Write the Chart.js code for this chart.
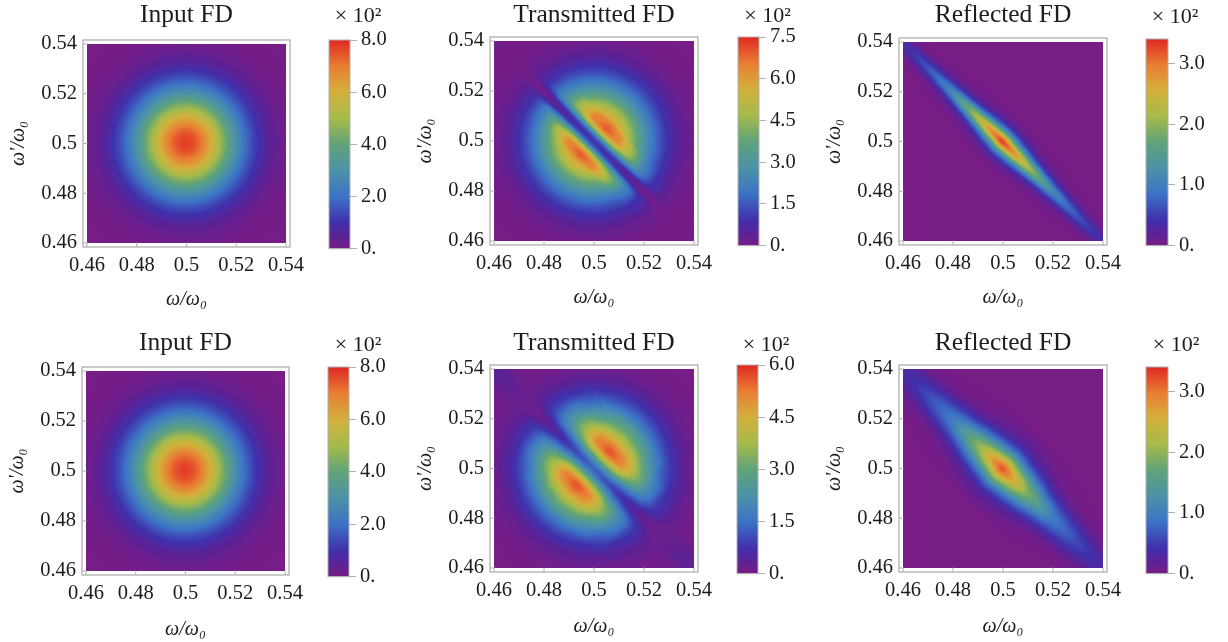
<!DOCTYPE html>
<html><head><meta charset="utf-8">
<style>html,body{margin:0;padding:0;background:#fff;width:1228px;height:642px;overflow:hidden}canvas{position:absolute;display:block}</style>
<script src="https://cdn.jsdelivr.net/npm/chart.js@4"></script>
</head><body>
<script>
// frequency axes
const nodes17=[.46,.465,.47,.475,.48,.485,.49,.495,.5,.505,.51,.515,.52,.525,.53,.535,.54];
const axisTicks=[.46,.48,.5,.52,.54];
const axisLabels=['0.46','0.48','0.5','0.52','0.54'];
// distance along the anti-diagonal for the ridge/notch rows, and their offsets across it
const along=[-.04,-.035,-.03,-.025,-.02,-.015,-.01,-.005,0,.005,.01,.015,.02,.025,.03,.035,.04];
const offsetsRN=[.007,.006,.005,.004,.003,.002,.001,0,-.001,-.002,-.003,-.004,-.005,-.006,-.007];
const offsetsTN=[.006,.005,.004,.003,.002,.001,0,-.001,-.002,-.003,-.004,-.005,-.006];
const offsetsRB=[.012,.01,.008,.006,.004,.002,0,-.002,-.004,-.006,-.008,-.01,-.012];
const offsetsTB=[.014,.012,.01,.008,.006,.004,.002,0,-.002,-.004,-.006,-.008,-.01,-.012,-.014];
// values in units of 10 (top row = omega' 0.54)
const inputFD=[
[.03,.08,.17,.34,.6,.9,1.2,1.5,1.6,1.5,1.2,.9,.6,.34,.17,.08,.03],
[.08,.2,.4,.85,1.5,2.3,3.1,3.7,4,3.7,3.1,2.3,1.5,.85,.4,.2,.08],
[.17,.4,1,1.9,3.3,5.1,6.9,8.3,8.8,8.3,6.9,5.1,3.3,1.9,1,.4,.17],
[.34,.85,1.9,3.7,6.5,10,13.5,16.3,17.3,16.3,13.5,10,6.5,3.7,1.9,.85,.34],
[.6,1.5,3.3,6.5,11.3,17.3,23.5,28.2,30,28.2,23.5,17.3,11.3,6.5,3.3,1.5,.6],
[.9,2.3,5.1,10,17.3,26.5,36,43.3,46,43.3,36,26.5,17.3,10,5.1,2.3,.9],
[1.2,3.1,6.9,13.5,23.5,36,49,59,62.6,59,49,36,23.5,13.5,6.9,3.1,1.2],
[1.5,3.7,8.3,16.3,28.2,43.3,59,70.8,75.2,70.8,59,43.3,28.2,16.3,8.3,3.7,1.5],
[1.6,4,8.8,17.3,30,46,62.6,75.2,80,75.2,62.6,46,30,17.3,8.8,4,1.6],
[1.5,3.7,8.3,16.3,28.2,43.3,59,70.8,75.2,70.8,59,43.3,28.2,16.3,8.3,3.7,1.5],
[1.2,3.1,6.9,13.5,23.5,36,49,59,62.6,59,49,36,23.5,13.5,6.9,3.1,1.2],
[.9,2.3,5.1,10,17.3,26.5,36,43.3,46,43.3,36,26.5,17.3,10,5.1,2.3,.9],
[.6,1.5,3.3,6.5,11.3,17.3,23.5,28.2,30,28.2,23.5,17.3,11.3,6.5,3.3,1.5,.6],
[.34,.85,1.9,3.7,6.5,10,13.5,16.3,17.3,16.3,13.5,10,6.5,3.7,1.9,.85,.34],
[.17,.4,1,1.9,3.3,5.1,6.9,8.3,8.8,8.3,6.9,5.1,3.3,1.9,1,.4,.17],
[.08,.2,.4,.85,1.5,2.3,3.1,3.7,4,3.7,3.1,2.3,1.5,.85,.4,.2,.08],
[.03,.08,.17,.34,.6,.9,1.2,1.5,1.6,1.5,1.2,.9,.6,.34,.17,.08,.03]];
const reflectedNarrow=[
[0,0,0,0,.1,.1,.3,.5,.7,.5,.3,.1,.1,0,0,0,0],
[0,0,0,.1,.2,.3,.6,1,1.5,1,.6,.3,.2,.1,0,0,0],
[0,0,.1,.2,.4,.7,1.2,2.2,3,2.2,1.2,.7,.4,.2,.1,0,0],
[.1,.2,.3,.6,1,1.5,2.6,4.5,6,4.5,2.6,1.5,1,.6,.3,.2,.1],
[.4,.7,1,1.5,2.4,3.4,5.4,8.5,11.5,8.5,5.4,3.4,2.4,1.5,1,.7,.4],
[1.2,1.8,2.6,3.6,5,7.2,10.8,15.5,19,15.5,10.8,7.2,5,3.6,2.6,1.8,1.2],
[2.8,4,5.2,7,9.2,13.5,18.5,24,29,24,18.5,13.5,9.2,7,5.2,4,2.8],
[3.5,5,6.5,9,12,17,23,29,34,29,23,17,12,9,6.5,5,3.5],
[2.8,4,5.2,7,9.2,13.5,18.5,24,29,24,18.5,13.5,9.2,7,5.2,4,2.8],
[1.2,1.8,2.6,3.6,5,7.2,10.8,15.5,19,15.5,10.8,7.2,5,3.6,2.6,1.8,1.2],
[.4,.7,1,1.5,2.4,3.4,5.4,8.5,11.5,8.5,5.4,3.4,2.4,1.5,1,.7,.4],
[.1,.2,.3,.6,1,1.5,2.6,4.5,6,4.5,2.6,1.5,1,.6,.3,.2,.1],
[0,0,.1,.2,.4,.7,1.2,2.2,3,2.2,1.2,.7,.4,.2,.1,0,0],
[0,0,0,.1,.2,.3,.6,1,1.5,1,.6,.3,.2,.1,0,0,0],
[0,0,0,0,.1,.1,.3,.5,.7,.5,.3,.1,.1,0,0,0,0]];
const reflectedBroad=[
[0,0,0,0,.1,.2,.4,.7,.9,.7,.4,.2,.1,0,0,0,0],
[0,0,0,.1,.2,.4,.9,1.4,1.8,1.4,.9,.4,.2,.1,0,0,0],
[.1,.1,.2,.3,.5,1,2,2.9,3.8,2.9,2,1,.5,.3,.2,.1,.1],
[.3,.4,.7,1.1,1.6,2.6,4.5,6.2,8.5,6.2,4.5,2.6,1.6,1.1,.7,.4,.3],
[1,1.4,2.2,3.2,4.4,6,9.5,13,17,13,9.5,6,4.4,3.2,2.2,1.4,1],
[2.8,3.3,4.6,6.2,7.8,11.5,16,21.5,27,21.5,16,11.5,7.8,6.2,4.6,3.3,2.8],
[3.5,4.5,6,8,10,15,20,27,34,27,20,15,10,8,6,4.5,3.5],
[2.8,3.3,4.6,6.2,7.8,11.5,16,21.5,27,21.5,16,11.5,7.8,6.2,4.6,3.3,2.8],
[1,1.4,2.2,3.2,4.4,6,9.5,13,17,13,9.5,6,4.4,3.2,2.2,1.4,1],
[.3,.4,.7,1.1,1.6,2.6,4.5,6.2,8.5,6.2,4.5,2.6,1.6,1.1,.7,.4,.3],
[.1,.1,.2,.3,.5,1,2,2.9,3.8,2.9,2,1,.5,.3,.2,.1,.1],
[0,0,0,.1,.2,.4,.9,1.4,1.8,1.4,.9,.4,.2,.1,0,0,0],
[0,0,0,0,.1,.2,.4,.7,.9,.7,.4,.2,.1,0,0,0,0]];
const transmittedNarrow=[
[0,.2,.8,3.1,9.2,22.6,44,62,68,62,44,22.6,9.2,3.1,.8,.2,0],
[0,.2,.9,3.3,9.7,24,46,64,70,64,46,24,9.7,3.3,.9,.2,0],
[0,.2,.9,3.4,10,25,46,60,65,60,46,25,10,3.4,.9,.2,0],
[.1,.3,1,3.5,10.5,25,38,48,50,48,38,25,10.5,3.5,1,.3,.1],
[.2,.4,1,3.2,9,20,26,30,31,30,26,20,9,3.2,1,.4,.2],
[.8,.6,1,2,4.5,9,12,14,14,14,12,9,4.5,2,1,.6,.8],
[2,1,.8,.8,1.2,3,5.5,8,9,8,5.5,3,1.2,.8,.8,1,2],
[.8,.6,1,2,4.5,9,12,14,14,14,12,9,4.5,2,1,.6,.8],
[.2,.4,1,3.2,9,20,26,30,31,30,26,20,9,3.2,1,.4,.2],
[.1,.3,1,3.5,10.5,25,38,48,50,48,38,25,10.5,3.5,1,.3,.1],
[0,.2,.9,3.4,10,25,46,60,65,60,46,25,10,3.4,.9,.2,0],
[0,.2,.9,3.3,9.7,24,46,64,70,64,46,24,9.7,3.3,.9,.2,0],
[0,.2,.8,3.1,9.2,22.6,44,62,68,62,44,22.6,9.2,3.1,.8,.2,0]];
const transmittedBroad=[
[0,.1,.4,1.4,5,10,19,27,30,27,19,10,5,1.4,.4,.1,0],
[0,.1,.5,1.8,5.5,13,24,34,38,34,24,13,5.5,1.8,.5,.1,0],
[0,.1,.6,2.3,6.8,17,30,42,46,42,30,17,6.8,2.3,.6,.1,0],
[.1,.2,.7,2.9,8,20,35,50,55,50,35,20,8,2.9,.7,.2,.1],
[.5,.5,.9,3.2,8.5,21,36,52,58,52,36,21,8.5,3.2,.9,.5,.5],
[1.5,1.5,1.2,3,9,19,28,40,42,40,28,19,9,3,1.2,1.5,1.5],
[3,3,2,2,6,11,15,21,22,21,15,11,6,2,2,3,3],
[4,3.5,2.5,1.2,1,3,6,8,10,8,6,3,1,1.2,2.5,3.5,4],
[3,3,2,2,6,11,15,21,22,21,15,11,6,2,2,3,3],
[1.5,1.5,1.2,3,9,19,28,40,42,40,28,19,9,3,1.2,1.5,1.5],
[.5,.5,.9,3.2,8.5,21,36,52,58,52,36,21,8.5,3.2,.9,.5,.5],
[.1,.2,.7,2.9,8,20,35,50,55,50,35,20,8,2.9,.7,.2,.1],
[0,.1,.6,2.3,6.8,17,30,42,46,42,30,17,6.8,2.3,.6,.1,0],
[0,.1,.5,1.8,5.5,13,24,34,38,34,24,13,5.5,1.8,.5,.1,0],
[0,.1,.4,1.4,5,10,19,27,30,27,19,10,5,1.4,.4,.1,0]];
// colour bars
const ticksInput=[0,2,4,6,8], labelsInput=['0.','2.0','4.0','6.0','8.0'];
const ticksT1=[0,1.5,3,4.5,6,7.5], labelsT1=['0.','1.5','3.0','4.5','6.0','7.5'];
const ticksT2=[0,1.5,3,4.5,6], labelsT2=['0.','1.5','3.0','4.5','6.0'];
const ticksR=[0,1,2,3], labelsR=['0.','1.0','2.0','3.0'];
const rainbowPos=[0,.06,.125,.25,.375,.5,.625,.75,.875,1];
const rainbowRGB=[[120,28,134],[92,34,150],[64,48,172],[60,115,198],[76,146,168],[96,163,120],[165,187,74],[211,176,60],[233,125,50],[223,40,35]];

const FONT='"Liberation Serif","Times New Roman",serif', INK='#1c1c1c', GRAY='#b0b0b0';
function rainbowArr(t){t=Math.max(0,Math.min(1,t));let k=0;while(k<rainbowPos.length-2&&t>rainbowPos[k+1])k++;
 const f=(t-rainbowPos[k])/(rainbowPos[k+1]-rainbowPos[k]),a=rainbowRGB[k],b=rainbowRGB[k+1];
 return a.map((c,i)=>Math.round(c+(b[i]-c)*f));}
const rainbow=t=>`rgb(${rainbowArr(t).join(',')})`;
const LUT=[];for(let i=0;i<256;i++)LUT.push(rainbowArr(i/255));
const gray=t=>{const g=Math.round(255*Math.max(0,Math.min(1,t)));return `rgb(${g},${g},${g})`;};

const panels=[
 {t:'Input FD',base:inputFD,max:8,b1:6,b2:0,tk:ticksInput,tl:labelsInput,tc:15,f:[83,40,290,247],xo:53,cb:[329,40,350,249],cc:358,cy:16.5},
 {t:'Transmitted FD',base:inputFD,band:transmittedNarrow,off:offsetsTN,w:4.6,max:7.5,b1:6,b2:1.3,tk:ticksT1,tl:labelsT1,tc:15,f:[490,37,698,245],xo:53,cb:[738,37,759,246],cc:767.5,cy:16},
 {t:'Reflected FD',band:reflectedNarrow,off:offsetsRN,w:4.6,max:3.4,b1:0,b2:1.5,tk:ticksR,tl:labelsR,tc:15,f:[899,38,1107,245],xo:53,cb:[1146,39,1168,246],cc:1175,cy:17},
 {t:'Input FD',base:inputFD,max:8,b1:6,b2:0,tk:ticksInput,tl:labelsInput,tc:343,f:[82,367,289,575],xo:55,cb:[328,367,349,577],cc:358,cy:345},
 {t:'Transmitted FD',base:inputFD,band:transmittedBroad,off:offsetsTB,w:8.1,max:6,b1:6,b2:3,tk:ticksT2,tl:labelsT2,tc:343,f:[490,365,698,572],xo:55,cb:[737,365,758,574],cc:766,cy:345},
 {t:'Reflected FD',band:reflectedBroad,off:offsetsRB,w:8.1,max:3.4,b1:0,b2:3,tk:ticksR,tl:labelsR,tc:343,f:[899,365,1107,572],xo:55,cb:[1146,367,1168,574],cc:1176,cy:345}
];

function addCanvas(l,t,w,h){const c=document.createElement('canvas');c.width=w;c.height=h;c.style.left=l+'px';c.style.top=t+'px';c.style.width=w+'px';c.style.height=h+'px';document.body.appendChild(c);return c;}
function blurArea(ch,r){if(!r)return;const A=ch.chartArea,c=ch.ctx;
 const off=document.createElement('canvas');off.width=ch.width;off.height=ch.height;const g=off.getContext('2d');
 g.fillStyle='#000';g.fillRect(0,0,off.width,off.height);
 const w=A.right-A.left,h=A.bottom-A.top;g.drawImage(ch.canvas,A.left,A.top,w,h,A.left,A.top,w,h);
 c.save();c.beginPath();c.rect(A.left,A.top,w,h);c.clip();c.filter=`blur(${r}px)`;c.drawImage(off,0,0);c.restore();}
// scalar field is drawn as grey levels by the library, smoothed, then mapped to the colour scale
const field={id:'field',
 beforeDatasetsDraw(ch){const A=ch.chartArea,c=ch.ctx;c.save();c.fillStyle='#000';c.fillRect(A.left,A.top,A.right-A.left,A.bottom-A.top);c.restore();},
 afterDatasetDraw(ch,a,o){if(o.hasBase&&a.index===0)blurArea(ch,o.b1);},
 afterDatasetsDraw(ch,a,o){blurArea(ch,o.b2);
  const X=ch.scales.x,Y=ch.scales.y,c=ch.ctx,A=ch.chartArea;
  const l=Math.round(X.getPixelForValue(.46)),r=Math.round(X.getPixelForValue(.54)),t=Math.round(Y.getPixelForValue(.54)),b=Math.round(Y.getPixelForValue(.46));
  const img=c.getImageData(l,t,r-l,b-t),d=img.data;
  for(let i=0;i<d.length;i+=4){const m=LUT[d[i]];d[i]=m[0];d[i+1]=m[1];d[i+2]=m[2];d[i+3]=255;}
  c.save();c.fillStyle='#fff';c.fillRect(A.left,A.top,A.right-A.left,A.bottom-A.top);c.restore();
  c.putImageData(img,l,t);
 }};
const frame={id:'frame',afterDraw(ch){
 const A=ch.chartArea,c=ch.ctx,X=ch.scales.x,Y=ch.scales.y;
 c.save();c.strokeStyle=GRAY;c.lineWidth=1.3;c.strokeRect(A.left,A.top,A.right-A.left,A.bottom-A.top);
 c.beginPath();
 X.ticks.forEach(k=>{const p=X.getPixelForValue(k.value);c.moveTo(p,A.bottom);c.lineTo(p,A.bottom-4.5);});
 Y.ticks.forEach(k=>{const p=Y.getPixelForValue(k.value);c.moveTo(A.left,p);c.lineTo(A.left+4.5,p);});
 c.lineWidth=1;c.stroke();c.restore();
}};
const barFrame={id:'barFrame',afterDraw(ch){const A=ch.chartArea,c=ch.ctx;c.save();c.strokeStyle=GRAY;c.lineWidth=1;c.strokeRect(A.left,A.top,A.right-A.left,A.bottom-A.top);c.restore();}};

panels.forEach(p=>{
 const LW=76,BH=68,[fl,ft,fr,fb]=p.f;
 const top=Math.round(p.tc-15.3),W=LW*2+fr-fl,H=fb-top+BH;
 const cv=addCanvas(fl-LW,top,W,H);
 const datasets=[];
 if(p.base){const N=nodes17.length,step=nodes17[1]-nodes17[0],pts=[];
  p.base.forEach((row,r)=>row.forEach((v,c)=>pts.push({x:nodes17[c],y:nodes17[N-1-r],v:v/10})));
  datasets.push({type:'scatter',order:100,clip:0,data:pts,pointStyle:'rect',pointBorderWidth:0,borderWidth:0,showLine:false,
   pointRadius:c=>{const s=c.chart.scales.x;return (Math.abs(s.getPixelForValue(step)-s.getPixelForValue(0))/2+.8)*Math.SQRT2;},
   pointBackgroundColor:c=>gray(c.raw.v/p.max)});}
 if(p.band)p.band.forEach((row,r)=>{const b=p.off[r];
  const pts=row.map((v,k)=>({x:.5+along[k]+b,y:.5-along[k]+b,v:v/10}));
  datasets.push({type:'scatter',showLine:true,order:1,clip:0,data:pts,pointRadius:0,borderWidth:p.w,tension:0,borderCapStyle:'square',borderColor:'#000',
   segment:{borderColor:c=>{const g=c.chart.ctx.createLinearGradient(c.p0.x,c.p0.y,c.p1.x,c.p1.y);
     g.addColorStop(0,gray(pts[c.p0DataIndex].v/p.max));g.addColorStop(1,gray(pts[c.p1DataIndex].v/p.max));return g;}}});});
 const axis=(isX)=>({type:'linear',min:.4584,max:.5416,
  afterBuildTicks:s=>{s.ticks=axisTicks.map(value=>({value}));},
  afterFit:s=>{if(isX)s.height=BH;else s.width=LW;},
  grid:{display:false,drawTicks:false},border:{display:false},
  ticks:{autoSkip:false,maxRotation:0,minRotation:0,padding:6,color:INK,font:{family:FONT,size:20.5},callback:(v,i)=>axisLabels[i]},
  title:{display:true,text:isX?'ω/ω₀':"ω'/ω₀",color:INK,font:{family:FONT,size:20,style:'italic',lineHeight:1.2},padding:isX?{top:0,bottom:BH-p.xo-12}:{top:0,bottom:4}}
 });
 new Chart(cv,{type:'scatter',data:{datasets},
  options:{responsive:false,animation:false,devicePixelRatio:1,events:[],
   scales:{x:axis(true),y:axis(false),
    spacer:{axis:'y',type:'linear',position:'right',display:true,afterFit:s=>{s.width=LW;},grid:{display:false,drawTicks:false},border:{display:false},ticks:{display:false}}},
   plugins:{legend:{display:false},tooltip:{enabled:false},field:{hasBase:!!p.base,b1:p.b1,b2:p.b2},
    title:{display:true,text:p.t,color:INK,font:{family:FONT,size:25.5,weight:'normal',lineHeight:1.2},padding:{top:0,bottom:ft-top-30.6}}}},
  plugins:[field,frame]});

 // colour bar
 const [cl,ctp,cr,cbm]=p.cb,cL=cl-2,cW=Math.round(2*(p.cc-cL))-2,cT=Math.round(p.cy-13.2),cH=cbm-cT+16;
 const bv=addCanvas(cL,cT,cW,cH);
 new Chart(bv,{type:'bar',data:{labels:['scale'],datasets:[{data:[[0,p.max]],barPercentage:1,categoryPercentage:1,borderWidth:0,
   backgroundColor:c=>{const ch=c.chart,A=ch.chartArea;if(!A)return rainbow(0);const g=ch.ctx.createLinearGradient(0,A.bottom,0,A.top);
     rainbowPos.forEach((q)=>g.addColorStop(q,rainbow(q)));return g;}}]},
  options:{responsive:false,animation:false,devicePixelRatio:1,events:[],
   layout:{padding:{left:2,right:0,top:0,bottom:16}},
   scales:{x:{display:false},y:{position:'right',min:0,max:p.max,
     afterBuildTicks:s=>{s.ticks=p.tk.map(value=>({value}));},
     afterFit:s=>{s.width=cW-2-(cr-cl);},
     grid:{drawOnChartArea:false,drawTicks:true,tickLength:7,color:GRAY},border:{display:false},
     ticks:{autoSkip:false,padding:4,color:INK,font:{family:FONT,size:20.5},callback:(v,i)=>p.tl[i]}}},
   plugins:{legend:{display:false},tooltip:{enabled:false},
    title:{display:true,text:'× 10²',color:INK,font:{family:FONT,size:22,weight:'normal',lineHeight:1.2},padding:{top:0,bottom:ctp-cT-26.4}}}},
  plugins:[barFrame]});
});
</script>
</body></html>
